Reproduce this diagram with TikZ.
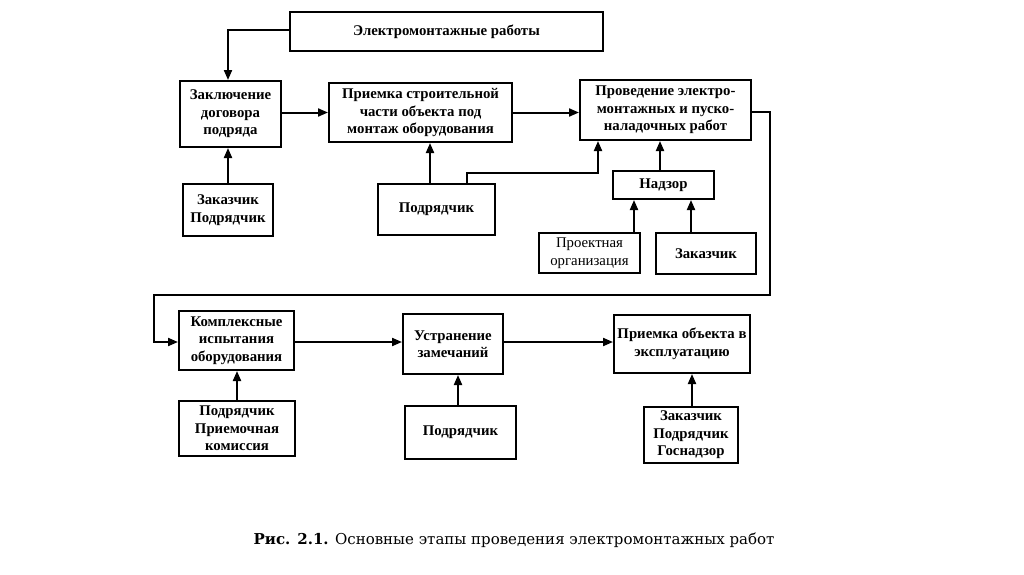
\documentclass[tikz,border=0pt]{standalone}
\usepackage{fontspec}
\setmainfont{Liberation Serif}
\newfontfamily\capfont{DejaVu Serif}
\usetikzlibrary{arrows.meta}
\tikzset{
  box/.style={draw, line width=2pt, align=center, inner sep=0pt,
    font=\bfseries\fontsize{14.8}{17.5}\selectfont},
  arr/.style={line width=2pt, -{Triangle[length=10pt,width=8pt]}},
  ln/.style={line width=2pt}
}
\newcommand{\bx}[6]{\node[box, minimum width=#4pt, minimum height=#5pt] (#1) at (#2,#3) {#6};}
\begin{document}
\begin{tikzpicture}[x=1pt,y=-1pt]
\useasboundingbox (0,0) rectangle (1024,574);
\bx{top}{446.5}{31.5}{313}{39}{Электромонтажные работы}
\bx{zakl}{230.5}{114}{101}{66}{Заключение\\договора\\подряда}
\bx{priem}{420.5}{112.5}{183}{59}{Приемка строительной\\части объекта под\\монтаж оборудования}
\bx{prov}{665.5}{110}{171}{60}{Проведение электро-\\монтажных и пуско-\\наладочных работ}
\bx{zakpod}{228}{210}{90}{52}{Заказчик\\Подрядчик}
\bx{pod1}{436.5}{209.5}{117}{51}{Подрядчик}
\bx{nadzor}{663.5}{185}{101}{28}{Надзор}
\bx{proekt}{589.5}{253}{101}{40}{\mdseries Проектная\\\mdseries организация}
\bx{zak2}{706}{253.5}{100}{41}{Заказчик}
\bx{kompl}{236.5}{340.5}{115}{59}{Комплексные\\испытания\\оборудования}
\bx{podpk}{237}{428.5}{116}{55}{Подрядчик\\Приемочная\\комиссия}
\bx{ustr}{453}{344}{100}{60}{Устранение\\замечаний}
\bx{pod2}{460.5}{432.5}{111}{53}{Подрядчик}
\bx{priemob}{682}{344}{136}{58}{Приемка объекта в\\эксплуатацию}
\bx{zpg}{691}{435}{94}{56}{Заказчик\\Подрядчик\\Госнадзор}

\draw[arr] ([yshift=1.5pt]top.west) -| ([xshift=-2.5pt]zakl.north);
\draw[arr] (priem.west -| zakl.east) -- (priem.west);
\draw[arr] (priem.east) -- (priem.east -| prov.west);
\draw[arr] (zakpod.north) -- (zakpod.north |- zakl.south);
\draw[arr] ([xshift=-6.5pt]pod1.north) -- ([xshift=-6.5pt]pod1.north |- priem.south);
\coordinate (c1) at (598,173);
\draw[arr] ([xshift=30.5pt]pod1.north) |- (c1) -- (c1 |- prov.south);
\draw[arr] ([xshift=-3.5pt]nadzor.north) -- ([xshift=-3.5pt]nadzor.north |- prov.south);
\draw[arr] ([xshift=44.5pt]proekt.north) -- ([xshift=44.5pt]proekt.north |- nadzor.south);
\draw[arr] ([xshift=-15pt]zak2.north) -- ([xshift=-15pt]zak2.north |- nadzor.south);
\coordinate (r1) at (770,295);
\coordinate (l1) at (154,295);
\draw[arr] ([yshift=-2pt]prov.east) -| (r1) -- (l1) |- ([yshift=-1.5pt]kompl.west);
\draw[arr] ([yshift=-1.5pt]kompl.east) -- ([yshift=-1.5pt]kompl.east -| ustr.west);
\draw[arr] ([yshift=2pt]ustr.east) -- ([yshift=2pt]priemob.west);
\draw[arr] (podpk.north) -- (podpk.north |- kompl.south);
\draw[arr] ([xshift=-2.5pt]pod2.north) -- ([xshift=-2.5pt]pod2.north |- ustr.south);
\draw[arr] ([xshift=1pt]zpg.north) -- ([xshift=1pt]zpg.north |- priemob.south);

\node[font=\capfont\fontsize{15}{18}\selectfont, inner sep=0pt] (cap) at (514,540) {\textbf{Рис. 2.1.} Основные этапы проведения электромонтажных работ};
\end{tikzpicture}
\end{document}
